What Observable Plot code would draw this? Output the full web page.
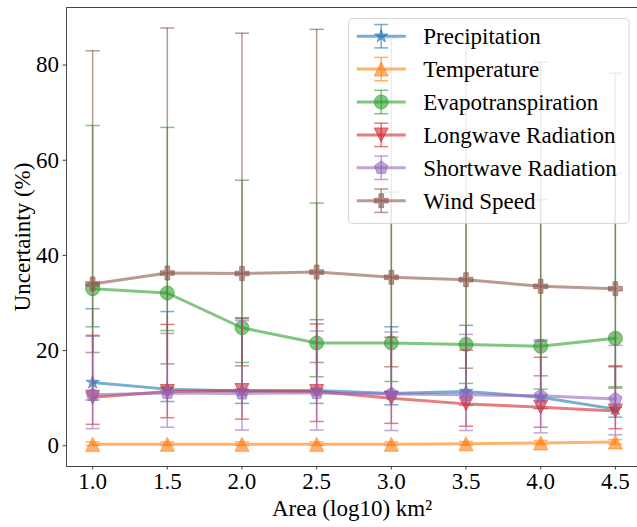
<!DOCTYPE html>
<html><head><meta charset="utf-8">
<script src="https://cdn.jsdelivr.net/npm/d3@7"></script>
<script src="https://cdn.jsdelivr.net/npm/@observablehq/plot@0.6"></script>
<style>html,body{margin:0;padding:0;background:#fff;overflow:hidden} svg{display:block;overflow:hidden}</style>
</head><body><div id="chart"></div>
<script>
// ---- data ----
const areas = [1.0, 1.5, 2.0, 2.5, 3.0, 3.5, 4.0, 4.5];
const seriesNames = ["Precipitation", "Temperature", "Evapotranspiration", "Longwave Radiation", "Shortwave Radiation", "Wind Speed"];
const seriesColors = ["#1f77b4", "#ff7f0e", "#2ca02c", "#d62728", "#9467bd", "#8c564b"];
const xTicks = [1.0, 1.5, 2.0, 2.5, 3.0, 3.5, 4.0, 4.5];
const yTicks = [0, 20, 40, 60, 80];
const xLabel = "Area (log10) km²";
const yLabel = "Uncertainty (%)";

const precipValue = [13.3, 11.9, 11.5, 11.6, 11.0, 11.4, 10.2, 7.7];
const precipLow   = [9.6, 9.3, 8.9, 8.9, 8.6, 8.5, 7.8, 6.0];
const precipHigh  = [28.8, 28.2, 26.7, 26.5, 25.0, 25.3, 22.0, 16.8];

const tempValue = [0.3, 0.3, 0.3, 0.3, 0.3, 0.4, 0.6, 0.8];
const tempLow   = [0.05, 0.05, 0.05, 0.05, 0.05, 0.1, 0.2, 0.3];
const tempHigh  = [0.8, 0.8, 0.8, 0.8, 0.8, 0.9, 1.1, 1.3];

const etValue = [33.0, 32.1, 24.8, 21.6, 21.6, 21.3, 20.9, 22.6];
const etLow   = [25.0, 24.2, 17.5, 14.5, 13.5, 13.1, 11.9, 12.4];
const etHigh  = [67.3, 66.9, 55.8, 51.0, 53.3, 52.3, 51.7, 57.2];

const lwValue = [10.2, 11.4, 11.6, 11.4, 10.0, 8.8, 8.1, 7.3];
const lwLow   = [4.5, 5.9, 5.6, 5.1, 4.7, 4.1, 3.9, 3.6];
const lwHigh  = [23.2, 25.5, 26.9, 25.6, 22.8, 20.1, 18.6, 16.6];

const swValue = [10.7, 11.1, 11.0, 11.1, 10.9, 10.7, 10.5, 9.8];
const swLow   = [3.6, 3.9, 3.3, 3.3, 3.2, 3.2, 2.7, 2.3];
const swHigh  = [23.0, 23.6, 26.3, 24.1, 23.9, 23.4, 22.3, 21.1];

const windValue = [34.0, 36.3, 36.2, 36.5, 35.4, 34.9, 33.5, 33.0];
const windLow   = [19.6, 17.2, 16.8, 17.5, 16.6, 16.3, 14.7, 12.1];
const windHigh  = [83.0, 87.8, 86.7, 87.5, 85.6, 84.5, 80.6, 78.3];

// ---- symbols (matplotlib-like markers) ----
const rad = s => Math.sqrt(s / Math.PI);
const symStar = {draw(c, s){const R = rad(s), r = R*0.381966; for(let i=0;i<10;i++){const a=-Math.PI/2+i*Math.PI/5, q=i%2?r:R; const px=q*Math.cos(a), py=q*Math.sin(a); i?c.lineTo(px,py):c.moveTo(px,py);} c.closePath();}};
const symTriUp = {draw(c, s){const R = rad(s); c.moveTo(0,-R); c.lineTo(-R,R); c.lineTo(R,R); c.closePath();}};
const symTriDown = {draw(c, s){const R = rad(s); c.moveTo(0,R); c.lineTo(-R,-R); c.lineTo(R,-R); c.closePath();}};
const symCircle = {draw(c, s){const R = rad(s); c.moveTo(R,0); c.arc(0,0,R,0,2*Math.PI); c.closePath();}};
const symPentagon = {draw(c, s){const R = rad(s); for(let i=0;i<5;i++){const a=-Math.PI/2+i*2*Math.PI/5; const px=R*Math.cos(a), py=R*Math.sin(a); i?c.lineTo(px,py):c.moveTo(px,py);} c.closePath();}};
const symPlus = {draw(c, s){const R = rad(s), t = R/3; const pts=[[-t,-R],[t,-R],[t,-t],[R,-t],[R,t],[t,t],[t,R],[-t,R],[-t,t],[-R,t],[-R,-t],[-t,-t]]; pts.forEach((p,i)=>i?c.lineTo(p[0],p[1]):c.moveTo(p[0],p[1])); c.closePath();}};
const symCap = {draw(c, s){const R = rad(s); c.moveTo(-R,0); c.lineTo(R,0);}};
const seriesSymbols = [symStar, symTriUp, symCircle, symTriDown, symPentagon, symPlus];

const seriesValues = [precipValue, tempValue, etValue, lwValue, swValue, windValue];
const seriesLows = [precipLow, tempLow, etLow, lwLow, swLow, windLow];
const seriesHighs = [precipHigh, tempHigh, etHigh, lwHigh, swHigh, windHigh];

const tables = seriesNames.map((name, k) => areas.map((a, i) => ({
  series: name, area: a, value: seriesValues[k][i], low: seriesLows[k][i], high: seriesHighs[k][i]
})));

const ALPHA = 0.6;
const MARKER_R = 7;
const marks = [];
tables.forEach((data, k) => {
  const color = seriesColors[k];
  marks.push(Plot.ruleX(data, {x: "area", y1: "low", y2: "high", stroke: color, strokeOpacity: ALPHA, strokeWidth: 1.5}));
  marks.push(Plot.dot(data, {x: "area", y: "low", symbol: symCap, r: 7, fill: "none", stroke: color, strokeOpacity: ALPHA, strokeWidth: 1.5}));
  marks.push(Plot.dot(data, {x: "area", y: "high", symbol: symCap, r: 7, fill: "none", stroke: color, strokeOpacity: ALPHA, strokeWidth: 1.5}));
  marks.push(Plot.line(data, {x: "area", y: "value", stroke: color, strokeOpacity: ALPHA, strokeWidth: 3}));
  marks.push(Plot.dot(data, {x: "area", y: "value", symbol: seriesSymbols[k], r: MARKER_R, fill: color, fillOpacity: ALPHA, stroke: color, strokeOpacity: ALPHA, strokeWidth: 1}));
});

const FONT = "'Liberation Serif', 'Times New Roman', serif";
const svg = Plot.plot({
  width: 637, height: 527,
  marginLeft: 66, marginRight: 0, marginTop: 7, marginBottom: 61,
  style: {fontFamily: FONT, fontSize: "23px", color: "#000", background: "#fff"},
  x: {domain: [0.825, 4.675], range: [66, 641]},
  y: {domain: [-4.36, 92.1]},
  marks: [
    ...marks,
    Plot.ruleX([0.825], {stroke: "#444", strokeWidth: 1}),
    Plot.ruleY([-4.36], {stroke: "#444", strokeWidth: 1}),
    Plot.ruleY([92.1], {stroke: "#444", strokeWidth: 1}),
    Plot.axisX({ticks: xTicks, tickFormat: d3.format(".1f"), tickSize: 3.5, tickPadding: 3, label: null, fontSize: 23, stroke: "#444"}),
    Plot.axisY({ticks: yTicks, tickSize: 3.5, tickPadding: 4, label: null, fontSize: 23, stroke: "#444"}),
    Plot.text([xLabel], {frameAnchor: "bottom", dy: 42.6, lineAnchor: "middle", textAnchor: "middle", fontSize: 23, fill: "#000"}),
    Plot.text([yLabel], {frameAnchor: "left", dx: -43.4, rotate: -90, lineAnchor: "middle", textAnchor: "middle", fontSize: 23, fill: "#000"})
  ]
});
document.getElementById("chart").appendChild(svg);

// ---- legend (inside axes, upper right) ----
const root = d3.select(svg);
const lg = root.append("g").attr("class", "legend");
lg.append("rect").attr("x", 348.5).attr("y", 18.5).attr("width", 280.5).attr("height", 205)
  .attr("rx", 4).attr("fill", "#fff").attr("fill-opacity", 0.8).attr("stroke", "#ccc").attr("stroke-opacity", 0.8);
const pathOf = (sym, r) => { const p = d3.path(); sym.draw(p, r*r*Math.PI); return p.toString(); };
seriesNames.forEach((name, k) => {
  const cy = 36.2 + 32.9*k, cx = 381.2, color = seriesColors[k];
  const g = lg.append("g");
  g.append("line").attr("x1", 356.7).attr("x2", 405.7).attr("y1", cy).attr("y2", cy)
    .attr("stroke", color).attr("stroke-opacity", ALPHA).attr("stroke-width", 3);
  g.append("line").attr("x1", cx).attr("x2", cx).attr("y1", cy-11.7).attr("y2", cy+11.7)
    .attr("stroke", color).attr("stroke-opacity", ALPHA).attr("stroke-width", 1.5);
  [cy-11.7, cy+11.7].forEach(yy => g.append("line").attr("x1", cx-7).attr("x2", cx+7).attr("y1", yy).attr("y2", yy)
    .attr("stroke", color).attr("stroke-opacity", ALPHA).attr("stroke-width", 1.5));
  g.append("path").attr("d", pathOf(seriesSymbols[k], MARKER_R)).attr("transform", `translate(${cx},${cy})`)
    .attr("fill", color).attr("fill-opacity", ALPHA).attr("stroke", color).attr("stroke-opacity", ALPHA).attr("stroke-width", 1);
  g.append("text").attr("x", 423.3).attr("y", cy + 8).attr("font-family", FONT).attr("font-size", 23)
    .attr("text-anchor", "start").attr("fill", "#000").text(name);
});
</script>
</body></html>
